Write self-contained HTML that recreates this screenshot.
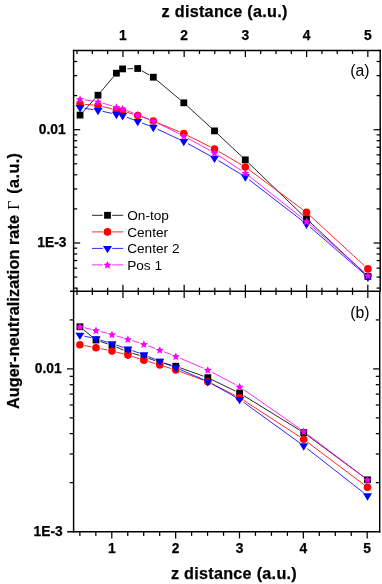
<!DOCTYPE html>
<html><head><meta charset="utf-8"><title>chart</title>
<style>
html,body{margin:0;padding:0;background:#fff;}
body{width:382px;height:584px;overflow:hidden;font-family:"Liberation Sans",sans-serif;}
svg{display:block;will-change:transform;font-family:"Liberation Sans",sans-serif;fill:#000;}
</style></head><body>
<svg width="382" height="584" viewBox="0 0 382 584">
<rect x="0" y="0" width="382" height="584" fill="#fff"/>
<line x1="73.60" y1="49.73" x2="73.60" y2="532.52" stroke="#000" stroke-width="1.45" stroke-linecap="butt"/>
<line x1="380.20" y1="49.73" x2="380.20" y2="291.30" stroke="#000" stroke-width="1.45" stroke-linecap="butt"/>
<line x1="379.70" y1="291.30" x2="379.70" y2="532.52" stroke="#000" stroke-width="1.45" stroke-linecap="butt"/>
<line x1="72.88" y1="50.45" x2="380.93" y2="50.45" stroke="#000" stroke-width="1.45" stroke-linecap="butt"/>
<line x1="70.00" y1="291.30" x2="380.93" y2="291.30" stroke="#000" stroke-width="1.45" stroke-linecap="butt"/>
<line x1="67.20" y1="531.80" x2="380.43" y2="531.80" stroke="#000" stroke-width="1.45" stroke-linecap="butt"/>
<line x1="77.03" y1="50.45" x2="77.03" y2="54.05" stroke="#000" stroke-width="1.25" stroke-linecap="butt"/>
<line x1="77.03" y1="287.70" x2="77.03" y2="294.90" stroke="#000" stroke-width="1.25" stroke-linecap="butt"/>
<line x1="92.34" y1="50.45" x2="92.34" y2="54.05" stroke="#000" stroke-width="1.25" stroke-linecap="butt"/>
<line x1="92.34" y1="287.70" x2="92.34" y2="294.90" stroke="#000" stroke-width="1.25" stroke-linecap="butt"/>
<line x1="107.65" y1="50.45" x2="107.65" y2="54.05" stroke="#000" stroke-width="1.25" stroke-linecap="butt"/>
<line x1="107.65" y1="287.70" x2="107.65" y2="294.90" stroke="#000" stroke-width="1.25" stroke-linecap="butt"/>
<line x1="122.95" y1="50.45" x2="122.95" y2="57.05" stroke="#000" stroke-width="1.25" stroke-linecap="butt"/>
<line x1="122.95" y1="284.70" x2="122.95" y2="297.90" stroke="#000" stroke-width="1.25" stroke-linecap="butt"/>
<line x1="138.25" y1="50.45" x2="138.25" y2="54.05" stroke="#000" stroke-width="1.25" stroke-linecap="butt"/>
<line x1="138.25" y1="287.70" x2="138.25" y2="294.90" stroke="#000" stroke-width="1.25" stroke-linecap="butt"/>
<line x1="153.56" y1="50.45" x2="153.56" y2="54.05" stroke="#000" stroke-width="1.25" stroke-linecap="butt"/>
<line x1="153.56" y1="287.70" x2="153.56" y2="294.90" stroke="#000" stroke-width="1.25" stroke-linecap="butt"/>
<line x1="168.87" y1="50.45" x2="168.87" y2="54.05" stroke="#000" stroke-width="1.25" stroke-linecap="butt"/>
<line x1="168.87" y1="287.70" x2="168.87" y2="294.90" stroke="#000" stroke-width="1.25" stroke-linecap="butt"/>
<line x1="184.17" y1="50.45" x2="184.17" y2="57.05" stroke="#000" stroke-width="1.25" stroke-linecap="butt"/>
<line x1="184.17" y1="284.70" x2="184.17" y2="297.90" stroke="#000" stroke-width="1.25" stroke-linecap="butt"/>
<line x1="199.48" y1="50.45" x2="199.48" y2="54.05" stroke="#000" stroke-width="1.25" stroke-linecap="butt"/>
<line x1="199.48" y1="287.70" x2="199.48" y2="294.90" stroke="#000" stroke-width="1.25" stroke-linecap="butt"/>
<line x1="214.78" y1="50.45" x2="214.78" y2="54.05" stroke="#000" stroke-width="1.25" stroke-linecap="butt"/>
<line x1="214.78" y1="287.70" x2="214.78" y2="294.90" stroke="#000" stroke-width="1.25" stroke-linecap="butt"/>
<line x1="230.08" y1="50.45" x2="230.08" y2="54.05" stroke="#000" stroke-width="1.25" stroke-linecap="butt"/>
<line x1="230.08" y1="287.70" x2="230.08" y2="294.90" stroke="#000" stroke-width="1.25" stroke-linecap="butt"/>
<line x1="245.39" y1="50.45" x2="245.39" y2="57.05" stroke="#000" stroke-width="1.25" stroke-linecap="butt"/>
<line x1="245.39" y1="284.70" x2="245.39" y2="297.90" stroke="#000" stroke-width="1.25" stroke-linecap="butt"/>
<line x1="260.69" y1="50.45" x2="260.69" y2="54.05" stroke="#000" stroke-width="1.25" stroke-linecap="butt"/>
<line x1="260.69" y1="287.70" x2="260.69" y2="294.90" stroke="#000" stroke-width="1.25" stroke-linecap="butt"/>
<line x1="276.00" y1="50.45" x2="276.00" y2="54.05" stroke="#000" stroke-width="1.25" stroke-linecap="butt"/>
<line x1="276.00" y1="287.70" x2="276.00" y2="294.90" stroke="#000" stroke-width="1.25" stroke-linecap="butt"/>
<line x1="291.31" y1="50.45" x2="291.31" y2="54.05" stroke="#000" stroke-width="1.25" stroke-linecap="butt"/>
<line x1="291.31" y1="287.70" x2="291.31" y2="294.90" stroke="#000" stroke-width="1.25" stroke-linecap="butt"/>
<line x1="306.61" y1="50.45" x2="306.61" y2="57.05" stroke="#000" stroke-width="1.25" stroke-linecap="butt"/>
<line x1="306.61" y1="284.70" x2="306.61" y2="297.90" stroke="#000" stroke-width="1.25" stroke-linecap="butt"/>
<line x1="321.92" y1="50.45" x2="321.92" y2="54.05" stroke="#000" stroke-width="1.25" stroke-linecap="butt"/>
<line x1="321.92" y1="287.70" x2="321.92" y2="294.90" stroke="#000" stroke-width="1.25" stroke-linecap="butt"/>
<line x1="337.22" y1="50.45" x2="337.22" y2="54.05" stroke="#000" stroke-width="1.25" stroke-linecap="butt"/>
<line x1="337.22" y1="287.70" x2="337.22" y2="294.90" stroke="#000" stroke-width="1.25" stroke-linecap="butt"/>
<line x1="352.52" y1="50.45" x2="352.52" y2="54.05" stroke="#000" stroke-width="1.25" stroke-linecap="butt"/>
<line x1="352.52" y1="287.70" x2="352.52" y2="294.90" stroke="#000" stroke-width="1.25" stroke-linecap="butt"/>
<line x1="367.83" y1="50.45" x2="367.83" y2="57.05" stroke="#000" stroke-width="1.25" stroke-linecap="butt"/>
<line x1="367.83" y1="284.70" x2="367.83" y2="297.90" stroke="#000" stroke-width="1.25" stroke-linecap="butt"/>
<line x1="79.88" y1="531.80" x2="79.88" y2="535.90" stroke="#000" stroke-width="1.25" stroke-linecap="butt"/>
<line x1="95.84" y1="531.80" x2="95.84" y2="535.90" stroke="#000" stroke-width="1.25" stroke-linecap="butt"/>
<line x1="111.80" y1="531.80" x2="111.80" y2="538.40" stroke="#000" stroke-width="1.25" stroke-linecap="butt"/>
<line x1="127.76" y1="531.80" x2="127.76" y2="535.90" stroke="#000" stroke-width="1.25" stroke-linecap="butt"/>
<line x1="143.72" y1="531.80" x2="143.72" y2="535.90" stroke="#000" stroke-width="1.25" stroke-linecap="butt"/>
<line x1="159.69" y1="531.80" x2="159.69" y2="535.90" stroke="#000" stroke-width="1.25" stroke-linecap="butt"/>
<line x1="175.65" y1="531.80" x2="175.65" y2="538.40" stroke="#000" stroke-width="1.25" stroke-linecap="butt"/>
<line x1="191.61" y1="531.80" x2="191.61" y2="535.90" stroke="#000" stroke-width="1.25" stroke-linecap="butt"/>
<line x1="207.57" y1="531.80" x2="207.57" y2="535.90" stroke="#000" stroke-width="1.25" stroke-linecap="butt"/>
<line x1="223.54" y1="531.80" x2="223.54" y2="535.90" stroke="#000" stroke-width="1.25" stroke-linecap="butt"/>
<line x1="239.50" y1="531.80" x2="239.50" y2="538.40" stroke="#000" stroke-width="1.25" stroke-linecap="butt"/>
<line x1="255.46" y1="531.80" x2="255.46" y2="535.90" stroke="#000" stroke-width="1.25" stroke-linecap="butt"/>
<line x1="271.43" y1="531.80" x2="271.43" y2="535.90" stroke="#000" stroke-width="1.25" stroke-linecap="butt"/>
<line x1="287.39" y1="531.80" x2="287.39" y2="535.90" stroke="#000" stroke-width="1.25" stroke-linecap="butt"/>
<line x1="303.35" y1="531.80" x2="303.35" y2="538.40" stroke="#000" stroke-width="1.25" stroke-linecap="butt"/>
<line x1="319.31" y1="531.80" x2="319.31" y2="535.90" stroke="#000" stroke-width="1.25" stroke-linecap="butt"/>
<line x1="335.27" y1="531.80" x2="335.27" y2="535.90" stroke="#000" stroke-width="1.25" stroke-linecap="butt"/>
<line x1="351.24" y1="531.80" x2="351.24" y2="535.90" stroke="#000" stroke-width="1.25" stroke-linecap="butt"/>
<line x1="367.20" y1="531.80" x2="367.20" y2="538.40" stroke="#000" stroke-width="1.25" stroke-linecap="butt"/>
<line x1="73.60" y1="129.70" x2="80.20" y2="129.70" stroke="#000" stroke-width="1.25" stroke-linecap="butt"/>
<line x1="380.20" y1="129.70" x2="373.60" y2="129.70" stroke="#000" stroke-width="1.25" stroke-linecap="butt"/>
<line x1="73.60" y1="95.59" x2="77.20" y2="95.59" stroke="#000" stroke-width="1.25" stroke-linecap="butt"/>
<line x1="380.20" y1="95.59" x2="376.60" y2="95.59" stroke="#000" stroke-width="1.25" stroke-linecap="butt"/>
<line x1="73.60" y1="75.64" x2="77.20" y2="75.64" stroke="#000" stroke-width="1.25" stroke-linecap="butt"/>
<line x1="380.20" y1="75.64" x2="376.60" y2="75.64" stroke="#000" stroke-width="1.25" stroke-linecap="butt"/>
<line x1="73.60" y1="61.49" x2="77.20" y2="61.49" stroke="#000" stroke-width="1.25" stroke-linecap="butt"/>
<line x1="380.20" y1="61.49" x2="376.60" y2="61.49" stroke="#000" stroke-width="1.25" stroke-linecap="butt"/>
<line x1="73.60" y1="243.00" x2="80.20" y2="243.00" stroke="#000" stroke-width="1.25" stroke-linecap="butt"/>
<line x1="380.20" y1="243.00" x2="373.60" y2="243.00" stroke="#000" stroke-width="1.25" stroke-linecap="butt"/>
<line x1="73.60" y1="208.89" x2="77.20" y2="208.89" stroke="#000" stroke-width="1.25" stroke-linecap="butt"/>
<line x1="380.20" y1="208.89" x2="376.60" y2="208.89" stroke="#000" stroke-width="1.25" stroke-linecap="butt"/>
<line x1="73.60" y1="188.94" x2="77.20" y2="188.94" stroke="#000" stroke-width="1.25" stroke-linecap="butt"/>
<line x1="380.20" y1="188.94" x2="376.60" y2="188.94" stroke="#000" stroke-width="1.25" stroke-linecap="butt"/>
<line x1="73.60" y1="174.79" x2="77.20" y2="174.79" stroke="#000" stroke-width="1.25" stroke-linecap="butt"/>
<line x1="380.20" y1="174.79" x2="376.60" y2="174.79" stroke="#000" stroke-width="1.25" stroke-linecap="butt"/>
<line x1="73.60" y1="163.81" x2="77.20" y2="163.81" stroke="#000" stroke-width="1.25" stroke-linecap="butt"/>
<line x1="380.20" y1="163.81" x2="376.60" y2="163.81" stroke="#000" stroke-width="1.25" stroke-linecap="butt"/>
<line x1="73.60" y1="154.84" x2="77.20" y2="154.84" stroke="#000" stroke-width="1.25" stroke-linecap="butt"/>
<line x1="380.20" y1="154.84" x2="376.60" y2="154.84" stroke="#000" stroke-width="1.25" stroke-linecap="butt"/>
<line x1="73.60" y1="147.25" x2="77.20" y2="147.25" stroke="#000" stroke-width="1.25" stroke-linecap="butt"/>
<line x1="380.20" y1="147.25" x2="376.60" y2="147.25" stroke="#000" stroke-width="1.25" stroke-linecap="butt"/>
<line x1="73.60" y1="140.68" x2="77.20" y2="140.68" stroke="#000" stroke-width="1.25" stroke-linecap="butt"/>
<line x1="380.20" y1="140.68" x2="376.60" y2="140.68" stroke="#000" stroke-width="1.25" stroke-linecap="butt"/>
<line x1="73.60" y1="134.88" x2="77.20" y2="134.88" stroke="#000" stroke-width="1.25" stroke-linecap="butt"/>
<line x1="380.20" y1="134.88" x2="376.60" y2="134.88" stroke="#000" stroke-width="1.25" stroke-linecap="butt"/>
<line x1="73.60" y1="288.09" x2="77.20" y2="288.09" stroke="#000" stroke-width="1.25" stroke-linecap="butt"/>
<line x1="380.20" y1="288.09" x2="376.60" y2="288.09" stroke="#000" stroke-width="1.25" stroke-linecap="butt"/>
<line x1="73.60" y1="277.11" x2="77.20" y2="277.11" stroke="#000" stroke-width="1.25" stroke-linecap="butt"/>
<line x1="380.20" y1="277.11" x2="376.60" y2="277.11" stroke="#000" stroke-width="1.25" stroke-linecap="butt"/>
<line x1="73.60" y1="268.14" x2="77.20" y2="268.14" stroke="#000" stroke-width="1.25" stroke-linecap="butt"/>
<line x1="380.20" y1="268.14" x2="376.60" y2="268.14" stroke="#000" stroke-width="1.25" stroke-linecap="butt"/>
<line x1="73.60" y1="260.55" x2="77.20" y2="260.55" stroke="#000" stroke-width="1.25" stroke-linecap="butt"/>
<line x1="380.20" y1="260.55" x2="376.60" y2="260.55" stroke="#000" stroke-width="1.25" stroke-linecap="butt"/>
<line x1="73.60" y1="253.98" x2="77.20" y2="253.98" stroke="#000" stroke-width="1.25" stroke-linecap="butt"/>
<line x1="380.20" y1="253.98" x2="376.60" y2="253.98" stroke="#000" stroke-width="1.25" stroke-linecap="butt"/>
<line x1="73.60" y1="248.18" x2="77.20" y2="248.18" stroke="#000" stroke-width="1.25" stroke-linecap="butt"/>
<line x1="380.20" y1="248.18" x2="376.60" y2="248.18" stroke="#000" stroke-width="1.25" stroke-linecap="butt"/>
<line x1="73.60" y1="368.90" x2="67.00" y2="368.90" stroke="#000" stroke-width="1.25" stroke-linecap="butt"/>
<line x1="379.70" y1="368.90" x2="373.10" y2="368.90" stroke="#000" stroke-width="1.25" stroke-linecap="butt"/>
<line x1="73.60" y1="319.92" x2="69.70" y2="319.92" stroke="#000" stroke-width="1.25" stroke-linecap="butt"/>
<line x1="379.70" y1="319.92" x2="375.80" y2="319.92" stroke="#000" stroke-width="1.25" stroke-linecap="butt"/>
<line x1="73.60" y1="482.62" x2="69.70" y2="482.62" stroke="#000" stroke-width="1.25" stroke-linecap="butt"/>
<line x1="379.70" y1="482.62" x2="375.80" y2="482.62" stroke="#000" stroke-width="1.25" stroke-linecap="butt"/>
<line x1="73.60" y1="453.97" x2="69.70" y2="453.97" stroke="#000" stroke-width="1.25" stroke-linecap="butt"/>
<line x1="379.70" y1="453.97" x2="375.80" y2="453.97" stroke="#000" stroke-width="1.25" stroke-linecap="butt"/>
<line x1="73.60" y1="433.64" x2="69.70" y2="433.64" stroke="#000" stroke-width="1.25" stroke-linecap="butt"/>
<line x1="379.70" y1="433.64" x2="375.80" y2="433.64" stroke="#000" stroke-width="1.25" stroke-linecap="butt"/>
<line x1="73.60" y1="417.88" x2="69.70" y2="417.88" stroke="#000" stroke-width="1.25" stroke-linecap="butt"/>
<line x1="379.70" y1="417.88" x2="375.80" y2="417.88" stroke="#000" stroke-width="1.25" stroke-linecap="butt"/>
<line x1="73.60" y1="404.99" x2="69.70" y2="404.99" stroke="#000" stroke-width="1.25" stroke-linecap="butt"/>
<line x1="379.70" y1="404.99" x2="375.80" y2="404.99" stroke="#000" stroke-width="1.25" stroke-linecap="butt"/>
<line x1="73.60" y1="394.10" x2="69.70" y2="394.10" stroke="#000" stroke-width="1.25" stroke-linecap="butt"/>
<line x1="379.70" y1="394.10" x2="375.80" y2="394.10" stroke="#000" stroke-width="1.25" stroke-linecap="butt"/>
<line x1="73.60" y1="384.67" x2="69.70" y2="384.67" stroke="#000" stroke-width="1.25" stroke-linecap="butt"/>
<line x1="379.70" y1="384.67" x2="375.80" y2="384.67" stroke="#000" stroke-width="1.25" stroke-linecap="butt"/>
<line x1="73.60" y1="376.34" x2="69.70" y2="376.34" stroke="#000" stroke-width="1.25" stroke-linecap="butt"/>
<line x1="379.70" y1="376.34" x2="375.80" y2="376.34" stroke="#000" stroke-width="1.25" stroke-linecap="butt"/>
<line x1="83.20" y1="111.61" x2="94.85" y2="98.69" stroke="#000" stroke-width="0.85" stroke-linecap="butt"/>
<line x1="101.02" y1="91.59" x2="113.38" y2="76.81" stroke="#000" stroke-width="0.85" stroke-linecap="butt"/>
<line x1="127.30" y1="68.78" x2="133.00" y2="68.62" stroke="#000" stroke-width="0.85" stroke-linecap="butt"/>
<line x1="141.80" y1="70.79" x2="149.20" y2="74.91" stroke="#000" stroke-width="0.85" stroke-linecap="butt"/>
<line x1="156.90" y1="80.22" x2="180.20" y2="99.78" stroke="#000" stroke-width="0.85" stroke-linecap="butt"/>
<line x1="187.27" y1="105.97" x2="211.03" y2="127.73" stroke="#000" stroke-width="0.85" stroke-linecap="butt"/>
<line x1="217.93" y1="134.12" x2="241.87" y2="156.58" stroke="#000" stroke-width="0.85" stroke-linecap="butt"/>
<line x1="248.68" y1="163.06" x2="303.12" y2="215.54" stroke="#000" stroke-width="0.85" stroke-linecap="butt"/>
<line x1="309.93" y1="222.02" x2="364.47" y2="273.18" stroke="#000" stroke-width="0.85" stroke-linecap="butt"/>
<rect x="76.65" y="111.70" width="6.8" height="6.8" fill="#000"/>
<rect x="94.60" y="91.80" width="6.8" height="6.8" fill="#000"/>
<rect x="113.00" y="69.80" width="6.8" height="6.8" fill="#000"/>
<rect x="119.20" y="65.50" width="6.8" height="6.8" fill="#000"/>
<rect x="134.30" y="65.10" width="6.8" height="6.8" fill="#000"/>
<rect x="149.90" y="73.80" width="6.8" height="6.8" fill="#000"/>
<rect x="180.40" y="99.40" width="6.8" height="6.8" fill="#000"/>
<rect x="211.10" y="127.50" width="6.8" height="6.8" fill="#000"/>
<rect x="241.90" y="156.40" width="6.8" height="6.8" fill="#000"/>
<rect x="303.10" y="215.40" width="6.8" height="6.8" fill="#000"/>
<rect x="364.50" y="273.00" width="6.8" height="6.8" fill="#000"/>
<line x1="84.73" y1="104.32" x2="93.32" y2="105.08" stroke="#ff0000" stroke-width="0.85" stroke-linecap="butt"/>
<line x1="102.57" y1="106.59" x2="111.83" y2="108.81" stroke="#ff0000" stroke-width="0.85" stroke-linecap="butt"/>
<line x1="127.10" y1="112.34" x2="133.20" y2="114.16" stroke="#ff0000" stroke-width="0.85" stroke-linecap="butt"/>
<line x1="142.13" y1="117.06" x2="148.87" y2="119.44" stroke="#ff0000" stroke-width="0.85" stroke-linecap="butt"/>
<line x1="157.64" y1="122.79" x2="179.46" y2="131.81" stroke="#ff0000" stroke-width="0.85" stroke-linecap="butt"/>
<line x1="188.00" y1="135.71" x2="210.30" y2="146.89" stroke="#ff0000" stroke-width="0.85" stroke-linecap="butt"/>
<line x1="218.56" y1="151.37" x2="241.24" y2="164.63" stroke="#ff0000" stroke-width="0.85" stroke-linecap="butt"/>
<line x1="249.07" y1="169.80" x2="302.73" y2="209.60" stroke="#ff0000" stroke-width="0.85" stroke-linecap="butt"/>
<line x1="309.96" y1="215.58" x2="364.44" y2="265.72" stroke="#ff0000" stroke-width="0.85" stroke-linecap="butt"/>
<circle cx="80.05" cy="103.90" r="3.8" fill="#ff0000"/>
<circle cx="98.00" cy="105.50" r="3.8" fill="#ff0000"/>
<circle cx="116.40" cy="109.90" r="3.8" fill="#ff0000"/>
<circle cx="122.60" cy="111.00" r="3.8" fill="#ff0000"/>
<circle cx="137.70" cy="115.50" r="3.8" fill="#ff0000"/>
<circle cx="153.30" cy="121.00" r="3.8" fill="#ff0000"/>
<circle cx="183.80" cy="133.60" r="3.8" fill="#ff0000"/>
<circle cx="214.50" cy="149.00" r="3.8" fill="#ff0000"/>
<circle cx="245.30" cy="167.00" r="3.8" fill="#ff0000"/>
<circle cx="306.50" cy="212.40" r="3.8" fill="#ff0000"/>
<circle cx="367.90" cy="268.90" r="3.8" fill="#ff0000"/>
<line x1="84.69" y1="108.32" x2="93.36" y2="109.68" stroke="#0000ff" stroke-width="0.85" stroke-linecap="butt"/>
<line x1="102.60" y1="111.37" x2="111.80" y2="113.33" stroke="#0000ff" stroke-width="0.85" stroke-linecap="butt"/>
<line x1="126.99" y1="117.29" x2="133.31" y2="119.71" stroke="#0000ff" stroke-width="0.85" stroke-linecap="butt"/>
<line x1="142.10" y1="123.06" x2="148.90" y2="125.64" stroke="#0000ff" stroke-width="0.85" stroke-linecap="butt"/>
<line x1="157.57" y1="129.27" x2="179.53" y2="139.43" stroke="#0000ff" stroke-width="0.85" stroke-linecap="butt"/>
<line x1="187.92" y1="143.66" x2="210.38" y2="155.94" stroke="#0000ff" stroke-width="0.85" stroke-linecap="butt"/>
<line x1="218.52" y1="160.63" x2="241.28" y2="174.37" stroke="#0000ff" stroke-width="0.85" stroke-linecap="butt"/>
<line x1="249.02" y1="179.67" x2="302.78" y2="221.13" stroke="#0000ff" stroke-width="0.85" stroke-linecap="butt"/>
<line x1="310.06" y1="227.07" x2="364.34" y2="273.93" stroke="#0000ff" stroke-width="0.85" stroke-linecap="butt"/>
<polygon points="75.55,105.10 84.55,105.10 80.05,112.50" fill="#0000ff"/>
<polygon points="93.50,107.90 102.50,107.90 98.00,115.30" fill="#0000ff"/>
<polygon points="111.90,111.80 120.90,111.80 116.40,119.20" fill="#0000ff"/>
<polygon points="118.10,113.10 127.10,113.10 122.60,120.50" fill="#0000ff"/>
<polygon points="133.20,118.90 142.20,118.90 137.70,126.30" fill="#0000ff"/>
<polygon points="148.80,124.80 157.80,124.80 153.30,132.20" fill="#0000ff"/>
<polygon points="179.30,138.90 188.30,138.90 183.80,146.30" fill="#0000ff"/>
<polygon points="210.00,155.70 219.00,155.70 214.50,163.10" fill="#0000ff"/>
<polygon points="240.80,174.30 249.80,174.30 245.30,181.70" fill="#0000ff"/>
<polygon points="302.00,221.50 311.00,221.50 306.50,228.90" fill="#0000ff"/>
<polygon points="363.40,274.50 372.40,274.50 367.90,281.90" fill="#0000ff"/>
<line x1="84.71" y1="99.85" x2="93.34" y2="101.05" stroke="#ff00ff" stroke-width="0.85" stroke-linecap="butt"/>
<line x1="102.50" y1="103.07" x2="111.90" y2="105.93" stroke="#ff00ff" stroke-width="0.85" stroke-linecap="butt"/>
<line x1="126.97" y1="110.54" x2="133.33" y2="113.06" stroke="#ff00ff" stroke-width="0.85" stroke-linecap="butt"/>
<line x1="142.07" y1="116.54" x2="148.93" y2="119.26" stroke="#ff00ff" stroke-width="0.85" stroke-linecap="butt"/>
<line x1="157.51" y1="123.09" x2="179.59" y2="134.01" stroke="#ff00ff" stroke-width="0.85" stroke-linecap="butt"/>
<line x1="187.92" y1="138.36" x2="210.38" y2="150.64" stroke="#ff00ff" stroke-width="0.85" stroke-linecap="butt"/>
<line x1="218.43" y1="155.48" x2="241.37" y2="170.52" stroke="#ff00ff" stroke-width="0.85" stroke-linecap="butt"/>
<line x1="248.99" y1="176.02" x2="302.81" y2="218.58" stroke="#ff00ff" stroke-width="0.85" stroke-linecap="butt"/>
<line x1="310.03" y1="224.61" x2="364.37" y2="272.49" stroke="#ff00ff" stroke-width="0.85" stroke-linecap="butt"/>
<polygon points="80.05,95.25 81.20,97.92 84.09,98.19 81.90,100.10 82.55,102.94 80.05,101.45 77.55,102.94 78.20,100.10 76.01,98.19 78.90,97.92" fill="#ff00ff"/>
<polygon points="98.00,97.75 99.15,100.42 102.04,100.69 99.85,102.60 100.50,105.44 98.00,103.95 95.50,105.44 96.15,102.60 93.96,100.69 96.85,100.42" fill="#ff00ff"/>
<polygon points="116.40,103.35 117.55,106.02 120.44,106.29 118.25,108.20 118.90,111.04 116.40,109.55 113.90,111.04 114.55,108.20 112.36,106.29 115.25,106.02" fill="#ff00ff"/>
<polygon points="122.60,104.85 123.75,107.52 126.64,107.79 124.45,109.70 125.10,112.54 122.60,111.05 120.10,112.54 120.75,109.70 118.56,107.79 121.45,107.52" fill="#ff00ff"/>
<polygon points="137.70,110.85 138.85,113.52 141.74,113.79 139.55,115.70 140.20,118.54 137.70,117.05 135.20,118.54 135.85,115.70 133.66,113.79 136.55,113.52" fill="#ff00ff"/>
<polygon points="153.30,117.05 154.45,119.72 157.34,119.99 155.15,121.90 155.80,124.74 153.30,123.25 150.80,124.74 151.45,121.90 149.26,119.99 152.15,119.72" fill="#ff00ff"/>
<polygon points="183.80,132.15 184.95,134.82 187.84,135.09 185.65,137.00 186.30,139.84 183.80,138.35 181.30,139.84 181.95,137.00 179.76,135.09 182.65,134.82" fill="#ff00ff"/>
<polygon points="214.50,148.95 215.65,151.62 218.54,151.89 216.35,153.80 217.00,156.64 214.50,155.15 212.00,156.64 212.65,153.80 210.46,151.89 213.35,151.62" fill="#ff00ff"/>
<polygon points="245.30,169.15 246.45,171.82 249.34,172.09 247.15,174.00 247.80,176.84 245.30,175.35 242.80,176.84 243.45,174.00 241.26,172.09 244.15,171.82" fill="#ff00ff"/>
<polygon points="306.50,217.55 307.65,220.22 310.54,220.49 308.35,222.40 309.00,225.24 306.50,223.75 304.00,225.24 304.65,222.40 302.46,220.49 305.35,220.22" fill="#ff00ff"/>
<polygon points="367.90,271.65 369.05,274.32 371.94,274.59 369.75,276.50 370.40,279.34 367.90,277.85 365.40,279.34 366.05,276.50 363.86,274.59 366.75,274.32" fill="#ff00ff"/>
<line x1="83.53" y1="329.74" x2="92.37" y2="337.01" stroke="#000" stroke-width="0.85" stroke-linecap="butt"/>
<line x1="100.45" y1="341.50" x2="107.55" y2="343.90" stroke="#000" stroke-width="0.85" stroke-linecap="butt"/>
<line x1="116.36" y1="347.15" x2="123.54" y2="350.05" stroke="#000" stroke-width="0.85" stroke-linecap="butt"/>
<line x1="132.39" y1="353.20" x2="139.41" y2="355.40" stroke="#000" stroke-width="0.85" stroke-linecap="butt"/>
<line x1="148.35" y1="358.31" x2="155.35" y2="360.69" stroke="#000" stroke-width="0.85" stroke-linecap="butt"/>
<line x1="164.36" y1="363.34" x2="171.24" y2="365.06" stroke="#000" stroke-width="0.85" stroke-linecap="butt"/>
<line x1="180.22" y1="367.79" x2="203.38" y2="376.11" stroke="#000" stroke-width="0.85" stroke-linecap="butt"/>
<line x1="212.03" y1="379.75" x2="235.37" y2="391.05" stroke="#000" stroke-width="0.85" stroke-linecap="butt"/>
<line x1="243.60" y1="395.57" x2="299.70" y2="430.13" stroke="#000" stroke-width="0.85" stroke-linecap="butt"/>
<line x1="307.48" y1="435.40" x2="363.72" y2="477.00" stroke="#000" stroke-width="0.85" stroke-linecap="butt"/>
<rect x="76.50" y="323.35" width="6.8" height="6.8" fill="#000"/>
<rect x="92.60" y="336.60" width="6.8" height="6.8" fill="#000"/>
<rect x="108.60" y="342.00" width="6.8" height="6.8" fill="#000"/>
<rect x="124.50" y="348.40" width="6.8" height="6.8" fill="#000"/>
<rect x="140.50" y="353.40" width="6.8" height="6.8" fill="#000"/>
<rect x="156.40" y="358.80" width="6.8" height="6.8" fill="#000"/>
<rect x="172.40" y="362.80" width="6.8" height="6.8" fill="#000"/>
<rect x="204.40" y="374.30" width="6.8" height="6.8" fill="#000"/>
<rect x="236.20" y="389.70" width="6.8" height="6.8" fill="#000"/>
<rect x="300.30" y="429.20" width="6.8" height="6.8" fill="#000"/>
<rect x="364.10" y="476.40" width="6.8" height="6.8" fill="#000"/>
<line x1="84.52" y1="345.56" x2="91.38" y2="346.84" stroke="#ff0000" stroke-width="0.85" stroke-linecap="butt"/>
<line x1="100.60" y1="348.65" x2="107.40" y2="350.05" stroke="#ff0000" stroke-width="0.85" stroke-linecap="butt"/>
<line x1="116.55" y1="352.17" x2="123.35" y2="353.93" stroke="#ff0000" stroke-width="0.85" stroke-linecap="butt"/>
<line x1="132.38" y1="356.53" x2="139.42" y2="358.77" stroke="#ff0000" stroke-width="0.85" stroke-linecap="butt"/>
<line x1="148.41" y1="361.53" x2="155.29" y2="363.57" stroke="#ff0000" stroke-width="0.85" stroke-linecap="butt"/>
<line x1="164.28" y1="366.33" x2="171.32" y2="368.57" stroke="#ff0000" stroke-width="0.85" stroke-linecap="butt"/>
<line x1="180.21" y1="371.61" x2="203.39" y2="380.09" stroke="#ff0000" stroke-width="0.85" stroke-linecap="butt"/>
<line x1="212.00" y1="383.81" x2="235.40" y2="395.59" stroke="#ff0000" stroke-width="0.85" stroke-linecap="butt"/>
<line x1="243.54" y1="400.26" x2="299.76" y2="436.74" stroke="#ff0000" stroke-width="0.85" stroke-linecap="butt"/>
<line x1="307.46" y1="442.13" x2="363.74" y2="484.47" stroke="#ff0000" stroke-width="0.85" stroke-linecap="butt"/>
<circle cx="79.90" cy="344.70" r="3.8" fill="#ff0000"/>
<circle cx="96.00" cy="347.70" r="3.8" fill="#ff0000"/>
<circle cx="112.00" cy="351.00" r="3.8" fill="#ff0000"/>
<circle cx="127.90" cy="355.10" r="3.8" fill="#ff0000"/>
<circle cx="143.90" cy="360.20" r="3.8" fill="#ff0000"/>
<circle cx="159.80" cy="364.90" r="3.8" fill="#ff0000"/>
<circle cx="175.80" cy="370.00" r="3.8" fill="#ff0000"/>
<circle cx="207.80" cy="381.70" r="3.8" fill="#ff0000"/>
<circle cx="239.60" cy="397.70" r="3.8" fill="#ff0000"/>
<circle cx="303.70" cy="439.30" r="3.8" fill="#ff0000"/>
<circle cx="367.50" cy="487.30" r="3.8" fill="#ff0000"/>
<line x1="84.49" y1="336.20" x2="91.41" y2="337.70" stroke="#0000ff" stroke-width="0.85" stroke-linecap="butt"/>
<line x1="100.49" y1="340.10" x2="107.51" y2="342.30" stroke="#0000ff" stroke-width="0.85" stroke-linecap="butt"/>
<line x1="116.46" y1="345.19" x2="123.44" y2="347.51" stroke="#0000ff" stroke-width="0.85" stroke-linecap="butt"/>
<line x1="132.32" y1="350.60" x2="139.48" y2="353.20" stroke="#0000ff" stroke-width="0.85" stroke-linecap="butt"/>
<line x1="148.26" y1="356.55" x2="155.44" y2="359.45" stroke="#0000ff" stroke-width="0.85" stroke-linecap="butt"/>
<line x1="164.15" y1="362.97" x2="171.45" y2="365.93" stroke="#0000ff" stroke-width="0.85" stroke-linecap="butt"/>
<line x1="180.12" y1="369.56" x2="203.48" y2="379.64" stroke="#0000ff" stroke-width="0.85" stroke-linecap="butt"/>
<line x1="211.90" y1="383.81" x2="235.50" y2="397.09" stroke="#0000ff" stroke-width="0.85" stroke-linecap="butt"/>
<line x1="243.41" y1="402.16" x2="299.89" y2="443.04" stroke="#0000ff" stroke-width="0.85" stroke-linecap="butt"/>
<line x1="307.40" y1="448.70" x2="363.80" y2="492.90" stroke="#0000ff" stroke-width="0.85" stroke-linecap="butt"/>
<polygon points="75.40,332.70 84.40,332.70 79.90,340.10" fill="#0000ff"/>
<polygon points="91.50,336.20 100.50,336.20 96.00,343.60" fill="#0000ff"/>
<polygon points="107.50,341.20 116.50,341.20 112.00,348.60" fill="#0000ff"/>
<polygon points="123.40,346.50 132.40,346.50 127.90,353.90" fill="#0000ff"/>
<polygon points="139.40,352.30 148.40,352.30 143.90,359.70" fill="#0000ff"/>
<polygon points="155.30,358.70 164.30,358.70 159.80,366.10" fill="#0000ff"/>
<polygon points="171.30,365.20 180.30,365.20 175.80,372.60" fill="#0000ff"/>
<polygon points="203.30,379.00 212.30,379.00 207.80,386.40" fill="#0000ff"/>
<polygon points="235.10,396.90 244.10,396.90 239.60,404.30" fill="#0000ff"/>
<polygon points="299.20,443.30 308.20,443.30 303.70,450.70" fill="#0000ff"/>
<polygon points="363.00,493.30 372.00,493.30 367.50,500.70" fill="#0000ff"/>
<line x1="84.48" y1="327.79" x2="91.42" y2="329.36" stroke="#ff00ff" stroke-width="0.85" stroke-linecap="butt"/>
<line x1="100.55" y1="331.59" x2="107.45" y2="333.41" stroke="#ff00ff" stroke-width="0.85" stroke-linecap="butt"/>
<line x1="116.51" y1="335.92" x2="123.39" y2="337.93" stroke="#ff00ff" stroke-width="0.85" stroke-linecap="butt"/>
<line x1="132.38" y1="340.66" x2="139.42" y2="342.89" stroke="#ff00ff" stroke-width="0.85" stroke-linecap="butt"/>
<line x1="148.32" y1="345.91" x2="155.38" y2="348.49" stroke="#ff00ff" stroke-width="0.85" stroke-linecap="butt"/>
<line x1="164.17" y1="351.82" x2="171.43" y2="354.68" stroke="#ff00ff" stroke-width="0.85" stroke-linecap="butt"/>
<line x1="180.13" y1="358.24" x2="203.47" y2="368.16" stroke="#ff00ff" stroke-width="0.85" stroke-linecap="butt"/>
<line x1="211.96" y1="372.19" x2="235.44" y2="384.56" stroke="#ff00ff" stroke-width="0.85" stroke-linecap="butt"/>
<line x1="243.46" y1="389.44" x2="299.84" y2="428.71" stroke="#ff00ff" stroke-width="0.85" stroke-linecap="butt"/>
<line x1="307.44" y1="434.24" x2="363.76" y2="476.96" stroke="#ff00ff" stroke-width="0.85" stroke-linecap="butt"/>
<polygon points="79.90,322.80 81.05,325.47 83.94,325.74 81.75,327.65 82.40,330.49 79.90,329.00 77.40,330.49 78.05,327.65 75.86,325.74 78.75,325.47" fill="#ff00ff"/>
<polygon points="96.00,326.45 97.15,329.12 100.04,329.39 97.85,331.30 98.50,334.14 96.00,332.65 93.50,334.14 94.15,331.30 91.96,329.39 94.85,329.12" fill="#ff00ff"/>
<polygon points="112.00,330.65 113.15,333.32 116.04,333.59 113.85,335.50 114.50,338.34 112.00,336.85 109.50,338.34 110.15,335.50 107.96,333.59 110.85,333.32" fill="#ff00ff"/>
<polygon points="127.90,335.30 129.05,337.97 131.94,338.24 129.75,340.15 130.40,342.99 127.90,341.50 125.40,342.99 126.05,340.15 123.86,338.24 126.75,337.97" fill="#ff00ff"/>
<polygon points="143.90,340.35 145.05,343.02 147.94,343.29 145.75,345.20 146.40,348.04 143.90,346.55 141.40,348.04 142.05,345.20 139.86,343.29 142.75,343.02" fill="#ff00ff"/>
<polygon points="159.80,346.15 160.95,348.82 163.84,349.09 161.65,351.00 162.30,353.84 159.80,352.35 157.30,353.84 157.95,351.00 155.76,349.09 158.65,348.82" fill="#ff00ff"/>
<polygon points="175.80,352.45 176.95,355.12 179.84,355.39 177.65,357.30 178.30,360.14 175.80,358.65 173.30,360.14 173.95,357.30 171.76,355.39 174.65,355.12" fill="#ff00ff"/>
<polygon points="207.80,366.05 208.95,368.72 211.84,368.99 209.65,370.90 210.30,373.74 207.80,372.25 205.30,373.74 205.95,370.90 203.76,368.99 206.65,368.72" fill="#ff00ff"/>
<polygon points="239.60,382.80 240.75,385.47 243.64,385.74 241.45,387.65 242.10,390.49 239.60,389.00 237.10,390.49 237.75,387.65 235.56,385.74 238.45,385.47" fill="#ff00ff"/>
<polygon points="303.70,427.45 304.85,430.12 307.74,430.39 305.55,432.30 306.20,435.14 303.70,433.65 301.20,435.14 301.85,432.30 299.66,430.39 302.55,430.12" fill="#ff00ff"/>
<polygon points="367.50,475.85 368.65,478.52 371.54,478.79 369.35,480.70 370.00,483.54 367.50,482.05 365.00,483.54 365.65,480.70 363.46,478.79 366.35,478.52" fill="#ff00ff"/>
<line x1="92.00" y1="215.30" x2="102.80" y2="215.30" stroke="#000" stroke-width="0.85" stroke-linecap="butt"/>
<line x1="112.20" y1="215.30" x2="123.20" y2="215.30" stroke="#000" stroke-width="0.85" stroke-linecap="butt"/>
<rect x="104.10" y="211.90" width="6.8" height="6.8" fill="#000"/>
<line x1="92.00" y1="231.90" x2="102.80" y2="231.90" stroke="#ff0000" stroke-width="0.85" stroke-linecap="butt"/>
<line x1="112.20" y1="231.90" x2="123.20" y2="231.90" stroke="#ff0000" stroke-width="0.85" stroke-linecap="butt"/>
<circle cx="107.50" cy="231.90" r="3.8" fill="#ff0000"/>
<line x1="92.00" y1="248.40" x2="102.80" y2="248.40" stroke="#0000ff" stroke-width="0.85" stroke-linecap="butt"/>
<line x1="112.20" y1="248.40" x2="123.20" y2="248.40" stroke="#0000ff" stroke-width="0.85" stroke-linecap="butt"/>
<polygon points="103.00,245.90 112.00,245.90 107.50,253.30" fill="#0000ff"/>
<line x1="92.00" y1="264.90" x2="102.80" y2="264.90" stroke="#ff00ff" stroke-width="0.85" stroke-linecap="butt"/>
<line x1="112.20" y1="264.90" x2="123.20" y2="264.90" stroke="#ff00ff" stroke-width="0.85" stroke-linecap="butt"/>
<polygon points="107.50,260.95 108.65,263.62 111.54,263.89 109.35,265.80 110.00,268.64 107.50,267.15 105.00,268.64 105.65,265.80 103.46,263.89 106.35,263.62" fill="#ff00ff"/>
<text x="127.20" y="220.30" font-size="13.65" font-weight="normal" text-anchor="start" >On-top</text>
<text x="127.20" y="236.60" font-size="13.65" font-weight="normal" text-anchor="start" >Center</text>
<text x="127.20" y="253.20" font-size="13.65" font-weight="normal" text-anchor="start" >Center 2</text>
<text x="127.20" y="269.50" font-size="13.65" font-weight="normal" text-anchor="start" >Pos 1</text>
<text x="350.20" y="76.20" font-size="15.8" font-weight="normal" text-anchor="start" >(a)</text>
<text x="350.20" y="317.80" font-size="15.8" font-weight="normal" text-anchor="start" >(b)</text>
<text x="122.95" y="40.30" font-size="13.8" font-weight="bold" text-anchor="middle"  stroke="#000" stroke-width="0.25">1</text>
<text x="111.80" y="553.00" font-size="13.8" font-weight="bold" text-anchor="middle"  stroke="#000" stroke-width="0.25">1</text>
<text x="184.17" y="40.30" font-size="13.8" font-weight="bold" text-anchor="middle"  stroke="#000" stroke-width="0.25">2</text>
<text x="175.65" y="553.00" font-size="13.8" font-weight="bold" text-anchor="middle"  stroke="#000" stroke-width="0.25">2</text>
<text x="245.39" y="40.30" font-size="13.8" font-weight="bold" text-anchor="middle"  stroke="#000" stroke-width="0.25">3</text>
<text x="239.50" y="553.00" font-size="13.8" font-weight="bold" text-anchor="middle"  stroke="#000" stroke-width="0.25">3</text>
<text x="306.61" y="40.30" font-size="13.8" font-weight="bold" text-anchor="middle"  stroke="#000" stroke-width="0.25">4</text>
<text x="303.35" y="553.00" font-size="13.8" font-weight="bold" text-anchor="middle"  stroke="#000" stroke-width="0.25">4</text>
<text x="367.83" y="40.30" font-size="13.8" font-weight="bold" text-anchor="middle"  stroke="#000" stroke-width="0.25">5</text>
<text x="367.20" y="553.00" font-size="13.8" font-weight="bold" text-anchor="middle"  stroke="#000" stroke-width="0.25">5</text>
<text x="65.60" y="133.60" font-size="13.8" font-weight="bold" text-anchor="end"  stroke="#000" stroke-width="0.25">0.01</text>
<text x="66.50" y="247.00" font-size="13.8" font-weight="bold" text-anchor="end"  stroke="#000" stroke-width="0.25">1E-3</text>
<text x="61.60" y="373.20" font-size="13.8" font-weight="bold" text-anchor="end"  stroke="#000" stroke-width="0.25">0.01</text>
<text x="62.70" y="536.00" font-size="13.8" font-weight="bold" text-anchor="end"  stroke="#000" stroke-width="0.25">1E-3</text>
<text x="161.6" y="17.1" font-size="16.2" font-weight="bold" stroke="#000" stroke-width="0.25" textLength="125.8" lengthAdjust="spacing">z distance (a.u.)</text>
<text x="170.9" y="579.1" font-size="16.2" font-weight="bold" stroke="#000" stroke-width="0.25" textLength="125.8" lengthAdjust="spacing">z distance (a.u.)</text>
<g transform="translate(18.8,409.0) rotate(-90)" font-size="16.2" font-weight="bold" stroke="#000" stroke-width="0.25"><text x="0" y="0" textLength="194" lengthAdjust="spacing">Auger-neutralization rate</text><text x="199.3" y="0" font-family="Liberation Serif" font-weight="normal" stroke="none" font-size="16">&#915;</text><text x="215.3" y="0" textLength="40.7" lengthAdjust="spacing">(a.u.)</text></g>
</svg>
</body></html>
